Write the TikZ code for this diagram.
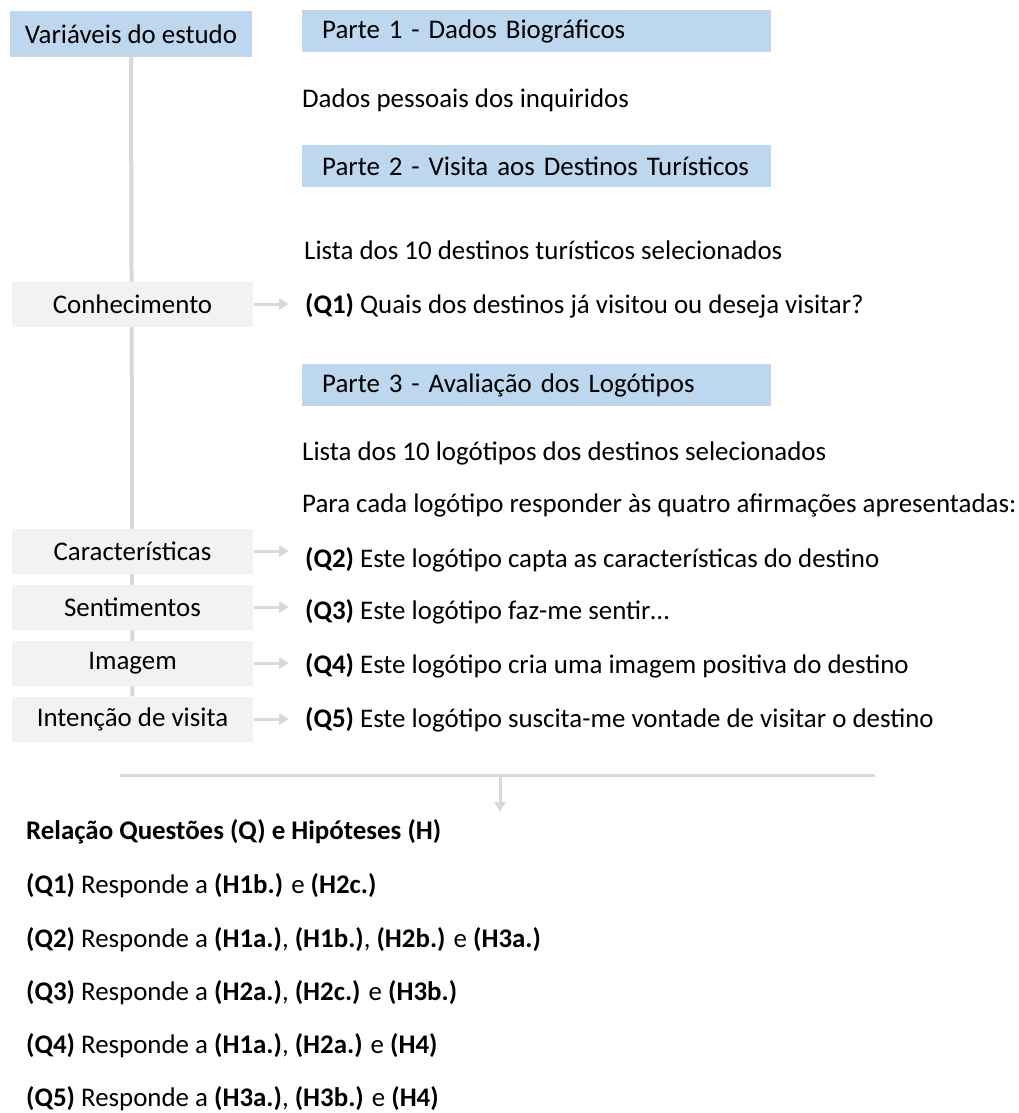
\documentclass[tikz,border=0pt]{standalone}
\usepackage{fontspec}
\setmainfont{Carlito}
\usetikzlibrary{arrows.meta,backgrounds}
\definecolor{azul}{HTML}{BDD7EE}
\definecolor{cinza}{HTML}{F2F2F2}
\definecolor{traco}{HTML}{D9D9D9}

\begin{document}
\begin{tikzpicture}[x=1pt, y=-1pt,
    every node/.style={font=\fontsize{26.9}{30}\selectfont, inner sep=0pt},
    parte/.style={fill=azul, anchor=west, text width=429pt, inner xsep=20pt,
        minimum height=42pt, align=left},
    variavel/.style={fill=cinza, minimum width=241pt, minimum height=45pt},
    linha/.style={anchor=mid west},
    ligacao/.style={draw=traco, line width=3pt},
    seta/.style={ligacao, -{Triangle[length=10pt, width=11pt]}}]
    \useasboundingbox (0,0) rectangle (1018,1113);

    % coluna das variaveis
    \node[fill=azul, minimum width=242pt, minimum height=46pt] (variaveis) at (131,34) {Variáveis do estudo};
    \node[variavel] (conhec) at (132.5,304) {Conhecimento};
    \node[variavel] (caract) at (132.5,551) {Características};
    \node[variavel] (sent) at (132.5,607) {Sentimentos};
    \node[variavel] (imagem) at (132.5,663) {Imagem};
    \node[variavel] (intencao) at (132.5,719) {Intenção de visita};
    \begin{scope}[on background layer]
        \draw[ligacao, line width=4pt] (variaveis.south) -- (intencao.north);
    \end{scope}

    % questionario
    \node[parte] (parte1) at (302,31) {Parte 1 - Dados Biográficos};
    \node[linha] (dados) at (302,105) {Dados pessoais dos inquiridos};
    \node[parte] (parte2) at (302,166) {Parte 2 - Visita aos Destinos Turísticos};
    \node[linha] (lista1) at (304,257) {Lista dos 10 destinos turísticos selecionados};
    \node[linha] (q1) at (305,311) {\textbf{(Q1)} Quais dos destinos já visitou ou deseja visitar?};
    \node[parte] (parte3) at (302,385) {Parte 3 - Avaliação dos Logótipos};
    \node[linha] (lista2) at (302,458) {Lista dos 10 logótipos dos destinos selecionados};
    \node[linha] (cada) at (302,510) {Para cada logótipo responder às quatro afirmações apresentadas:};
    \node[linha] (q2) at (305,565) {\textbf{(Q2)} Este logótipo capta as características do destino};
    \node[linha] (q3) at (305,617) {\textbf{(Q3)} Este logótipo faz-me sentir…};
    \node[linha] (q4) at (305,671) {\textbf{(Q4)} Este logótipo cria uma imagem positiva do destino};
    \node[linha] (q5) at (305,725) {\textbf{(Q5)} Este logótipo suscita-me vontade de visitar o destino};

    \draw[seta] ([xshift=1pt]conhec.east) -- ([xshift=-16pt]conhec.east -| q1.west);
    \draw[seta] ([xshift=1pt]caract.east) -- ([xshift=-16pt]caract.east -| q2.west);
    \draw[seta] ([xshift=1pt]sent.east) -- ([xshift=-16pt]sent.east -| q3.west);
    \draw[seta] ([xshift=1pt]imagem.east) -- ([xshift=-16pt]imagem.east -| q4.west);
    \draw[seta] ([xshift=1pt]intencao.east) -- ([xshift=-16pt]intencao.east -| q5.west);

    % relacao questoes / hipoteses
    \coordinate (esq) at (120,775);
    \coordinate (dir) at (875,775);
    \coordinate (meio) at (500,775);
    \coordinate (fim) at (500,812);
    \draw[ligacao] (esq) -- (dir);
    \draw[seta] (meio) -- (fim);

    \node[linha] (relacao) at (26,837) {\textbf{Relação Questões (Q) e Hipóteses (H)}};
    \node[linha] (r1) at (26,891) {\textbf{(Q1)} Responde a \textbf{(H1b.)} e \textbf{(H2c.)}};
    \node[linha] (r2) at (26,945) {\textbf{(Q2)} Responde a \textbf{(H1a.)}, \textbf{(H1b.)}, \textbf{(H2b.)} e \textbf{(H3a.)}};
    \node[linha] (r3) at (26,998) {\textbf{(Q3)} Responde a \textbf{(H2a.)}, \textbf{(H2c.)} e \textbf{(H3b.)}};
    \node[linha] (r4) at (26,1051) {\textbf{(Q4)} Responde a \textbf{(H1a.)}, \textbf{(H2a.)} e \textbf{(H4)}};
    \node[linha] (r5) at (26,1104) {\textbf{(Q5)} Responde a \textbf{(H3a.)}, \textbf{(H3b.)} e \textbf{(H4)}};
\end{tikzpicture}
\end{document}
